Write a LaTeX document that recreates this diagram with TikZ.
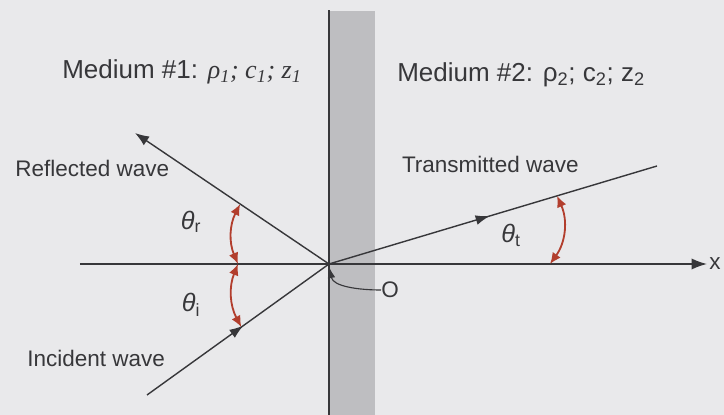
\documentclass[tikz,border=0pt]{standalone}
\usepackage{fontspec}
\setmainfont{Liberation Sans}
\newfontfamily\serifit{Liberation Serif}
\usetikzlibrary{arrows.meta,positioning,calc,decorations.markings}
\definecolor{bgGray}{RGB}{233,233,235}
\definecolor{wallGray}{RGB}{190,190,193}
\definecolor{lineDark}{RGB}{55,55,58}
\definecolor{angleRed}{RGB}{178,62,45}
\tikzset{
  ray/.style={lineDark, line width=1pt},
  midarrow/.style={postaction={decorate}, decoration={markings,
      mark=at position #1 with {\arrow{Latex[length=10pt,width=7pt]}}}},
  anglearc/.style={angleRed, line width=1.3pt,
      {Latex[length=8pt,width=7pt]}-{Latex[length=8pt,width=7pt]}},
  lbl/.style={font=\fontsize{16}{19}\selectfont, text=lineDark, inner sep=0pt},
  anglbl/.style={font=\fontsize{18}{21}\selectfont, text=lineDark, inner sep=0pt},
  medlbl/.style={font=\fontsize{18.5}{22}\selectfont, text=lineDark, inner sep=0pt},
}

\begin{document}
\begin{tikzpicture}
    % Background and frame
    \fill[bgGray] (-8.225,-3.775) rectangle (9.875,6.6);
    \useasboundingbox (-8.225,-3.775) rectangle (9.875,6.6);
    % Interface layer
    \fill[wallGray] (0.025,-3.775) rectangle (1.15,6.325);
    \coordinate (O) at (0,0);
    \coordinate (wallTop) at (0,6.35);
    \coordinate (wallBot) at (0,-3.775);
    \draw[ray] (wallBot) -- (wallTop);
    % x axis
    \coordinate (xStart) at (-6.225,0);
    \coordinate (xEnd) at (9.45,0);
    \draw[ray, -{Latex[length=11pt,width=8pt]}] (xStart) -- (xEnd);
    \node[lbl, right=1.5pt of xEnd] (xlab) {x};
    % Incident, reflected and transmitted waves
    \coordinate (incStart) at (-4.55,-3.275);
    \coordinate (reflEnd) at (-4.85,3.275);
    \coordinate (transEnd) at (8.2,2.45);
    \draw[ray, midarrow=0.53] (incStart) -- (O);
    \draw[ray, -{Latex[length=10pt,width=7.5pt]}] (O) -- (reflEnd);
    \draw[ray, midarrow=0.49] (O) -- (transEnd);
    % Angles
    \coordinate (arcR) at ($(O)!2.68cm!(reflEnd)$);
    \coordinate (arcM) at (-2.275,0);
    \coordinate (arcI) at ($(O)!2.7cm!(incStart)$);
    \coordinate (arcT) at ($(O)!5.95cm!(transEnd)$);
    \coordinate (arcB) at (5.525,0);
    \draw[anglearc] (arcR) to[bend right=25] (arcM);
    \draw[anglearc] (arcM) to[bend right=25] (arcI);
    \draw[anglearc] (arcT) to[bend left=30] (arcB);
    \node[anglbl] (thr) at (-3.45,1.05) {{\itshape θ}\textsubscript{r}};
    \node[anglbl] (thi) at (-3.45,-1.02) {{\itshape θ}\textsubscript{i}};
    \node[anglbl] (tht) at (4.55,0.72) {{\itshape θ}\textsubscript{t}};
    % Origin
    \node[lbl, anchor=west] (olab) at (1.3,-0.65) {O};
    \draw[ray, line width=0.8pt, -{Latex[length=7pt,width=5.5pt]}, shorten >=3pt]
      (olab.west) to[out=180, in=-80] (O);
    % Wave labels
    \node[lbl, anchor=west] (refl) at (-7.85,2.4) {Reflected wave};
    \node[lbl, anchor=west] (inc) at (-7.55,-2.35) {Incident wave};
    \node[lbl, anchor=west] (trans) at (1.82,2.48) {Transmitted wave};
    % Media
    \node[medlbl, anchor=west] (med1) at (-6.675,4.8)
      {Medium \#1: {\serifit\itshape ρ\textsubscript{1}; c\textsubscript{1}; z\textsubscript{1}}};
    \node[medlbl, anchor=west] (med2) at (1.7,4.73)
      {Medium \#2: ρ\textsubscript{2}; c\textsubscript{2}; z\textsubscript{2}};
\end{tikzpicture}
\end{document}
